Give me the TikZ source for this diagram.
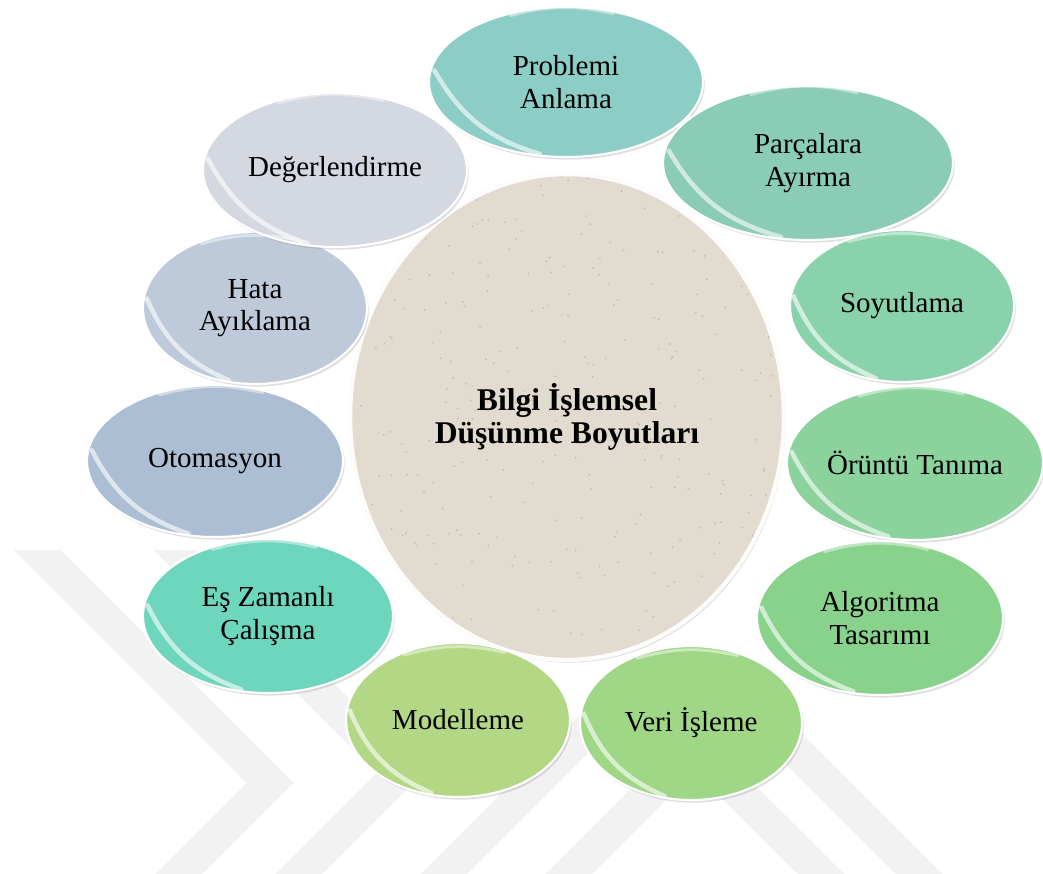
\documentclass[tikz,border=0pt]{standalone}
\usepackage{fontspec}
\setmainfont{Liberation Serif}
\usepackage{tikz}
\usetikzlibrary{shapes.geometric, positioning, calc, shadows}
\usepackage{xcolor}

\definecolor{probC}{HTML}{8CCDC6}
\definecolor{parcC}{HTML}{8ACCB6}
\definecolor{soyC}{HTML}{8AD2AB}
\definecolor{oruC}{HTML}{8CD29C}
\definecolor{algC}{HTML}{88D28C}
\definecolor{veriC}{HTML}{9FD786}
\definecolor{modC}{HTML}{B2D886}
\definecolor{esC}{HTML}{6DD6BD}
\definecolor{otoC}{HTML}{ACBED3}
\definecolor{hataC}{HTML}{BECADA}
\definecolor{degC}{HTML}{D4D8E1}
\definecolor{coreC}{HTML}{E2DBCF}
\newcommand{\lblfont}{\fontsize{16.5}{18.4}\selectfont}
\newcommand{\corefont}{\fontsize{18}{19}\selectfont\bfseries}

\begin{document}
\begin{tikzpicture}[
  x=0.02cm, y=-0.02cm,
  bubble/.style={ellipse, draw=white, line width=1.2pt, inner sep=0pt, align=center, font=\lblfont,
    drop shadow={shadow xshift=1pt, shadow yshift=-1.5pt, opacity=.25}},
  core/.style={ellipse, draw=white!92!coreC, line width=2.5pt, fill=coreC, inner sep=0pt, align=center,
    font=\corefont, minimum width=8.68cm, minimum height=9.72cm,
    drop shadow={shadow xshift=1pt, shadow yshift=-1.5pt, opacity=.3}},
  shine/.style={white, line width=2.6pt, opacity=.6, line cap=round},
  wm/.style={black!5, line width=0.66cm, line join=miter}
  ]
  \useasboundingbox (0,0) rectangle (1043,873);

  % watermark in the background
  \begin{scope}
    \clip (0,550) rectangle (1043,873);
    \draw[wm] (17,530) -- (270,783) -- (160,893);
    \draw[wm] (157,530) -- (400,773) -- (280,893);
    \draw[wm] (425,893) -- (632,686) -- (840,893);
    \draw[wm] (550,893) -- (744,699) -- (938,893);
  \end{scope}

  \pgfmathsetseed{7}
  \node[core, path picture={
      \foreach \i in {1,...,320}{
        \fill[black!55, opacity=.3] ($(path picture bounding box.center)+(rand*220,rand*245)$) circle (0.55pt);}
    }] (core) at (567,417) {Bilgi İşlemsel\\Düşünme Boyutları};

  \node[bubble, fill=probC, minimum width=5.48cm, minimum height=3.0cm] (prob) at (566,82) {Problemi\\Anlama};
  \node[bubble, fill=parcC, minimum width=5.8cm, minimum height=3.08cm] (parc) at (808,163) {Parçalara\\Ayırma};
  \node[bubble, fill=soyC, minimum width=4.48cm, minimum height=3.04cm] (soyut) at (902,306) {Soyutlama};
  \node[bubble, fill=oruC, minimum width=5.12cm, minimum height=3.08cm] (orun) at (915,463) {Örüntü Tanıma};
  \node[bubble, fill=algC, minimum width=4.92cm, minimum height=3.08cm] (algo) at (880,618) {Algoritma\\Tasarımı};
  \node[bubble, fill=veriC, minimum width=4.44cm, minimum height=3.08cm] (veri) at (691,723) {Veri İşleme};
  \node[bubble, fill=modC, minimum width=4.48cm, minimum height=3.08cm] (model) at (458,720) {Modelleme};
  \node[bubble, fill=esC, minimum width=5.0cm, minimum height=3.08cm] (eszam) at (268,616) {Eş Zamanlı\\Çalışma};
  \node[bubble, fill=otoC, minimum width=5.12cm, minimum height=3.04cm] (otom) at (215,461) {Otomasyon};
  \node[bubble, fill=hataC, minimum width=4.48cm, minimum height=3.04cm] (hata) at (255,308) {Hata\\Ayıklama};
  \node[bubble, fill=degC, minimum width=5.28cm, minimum height=3.08cm] (deger) at (335,170) {Değerlendirme};

  % glossy rims
  \foreach \n in {prob,parc,soyut,orun,algo,veri,model,eszam,otom,hata,deger}{
    \draw[shine] ($(\n.175)!.035!(\n.center)$) to[bend right=22] ($(\n.250)!.035!(\n.center)$);
    \draw[shine, opacity=.45, line width=1.6pt] ($(\n.55)!.04!(\n.center)$) to[bend right=14] ($(\n.130)!.04!(\n.center)$);
  }
\end{tikzpicture}
\end{document}
